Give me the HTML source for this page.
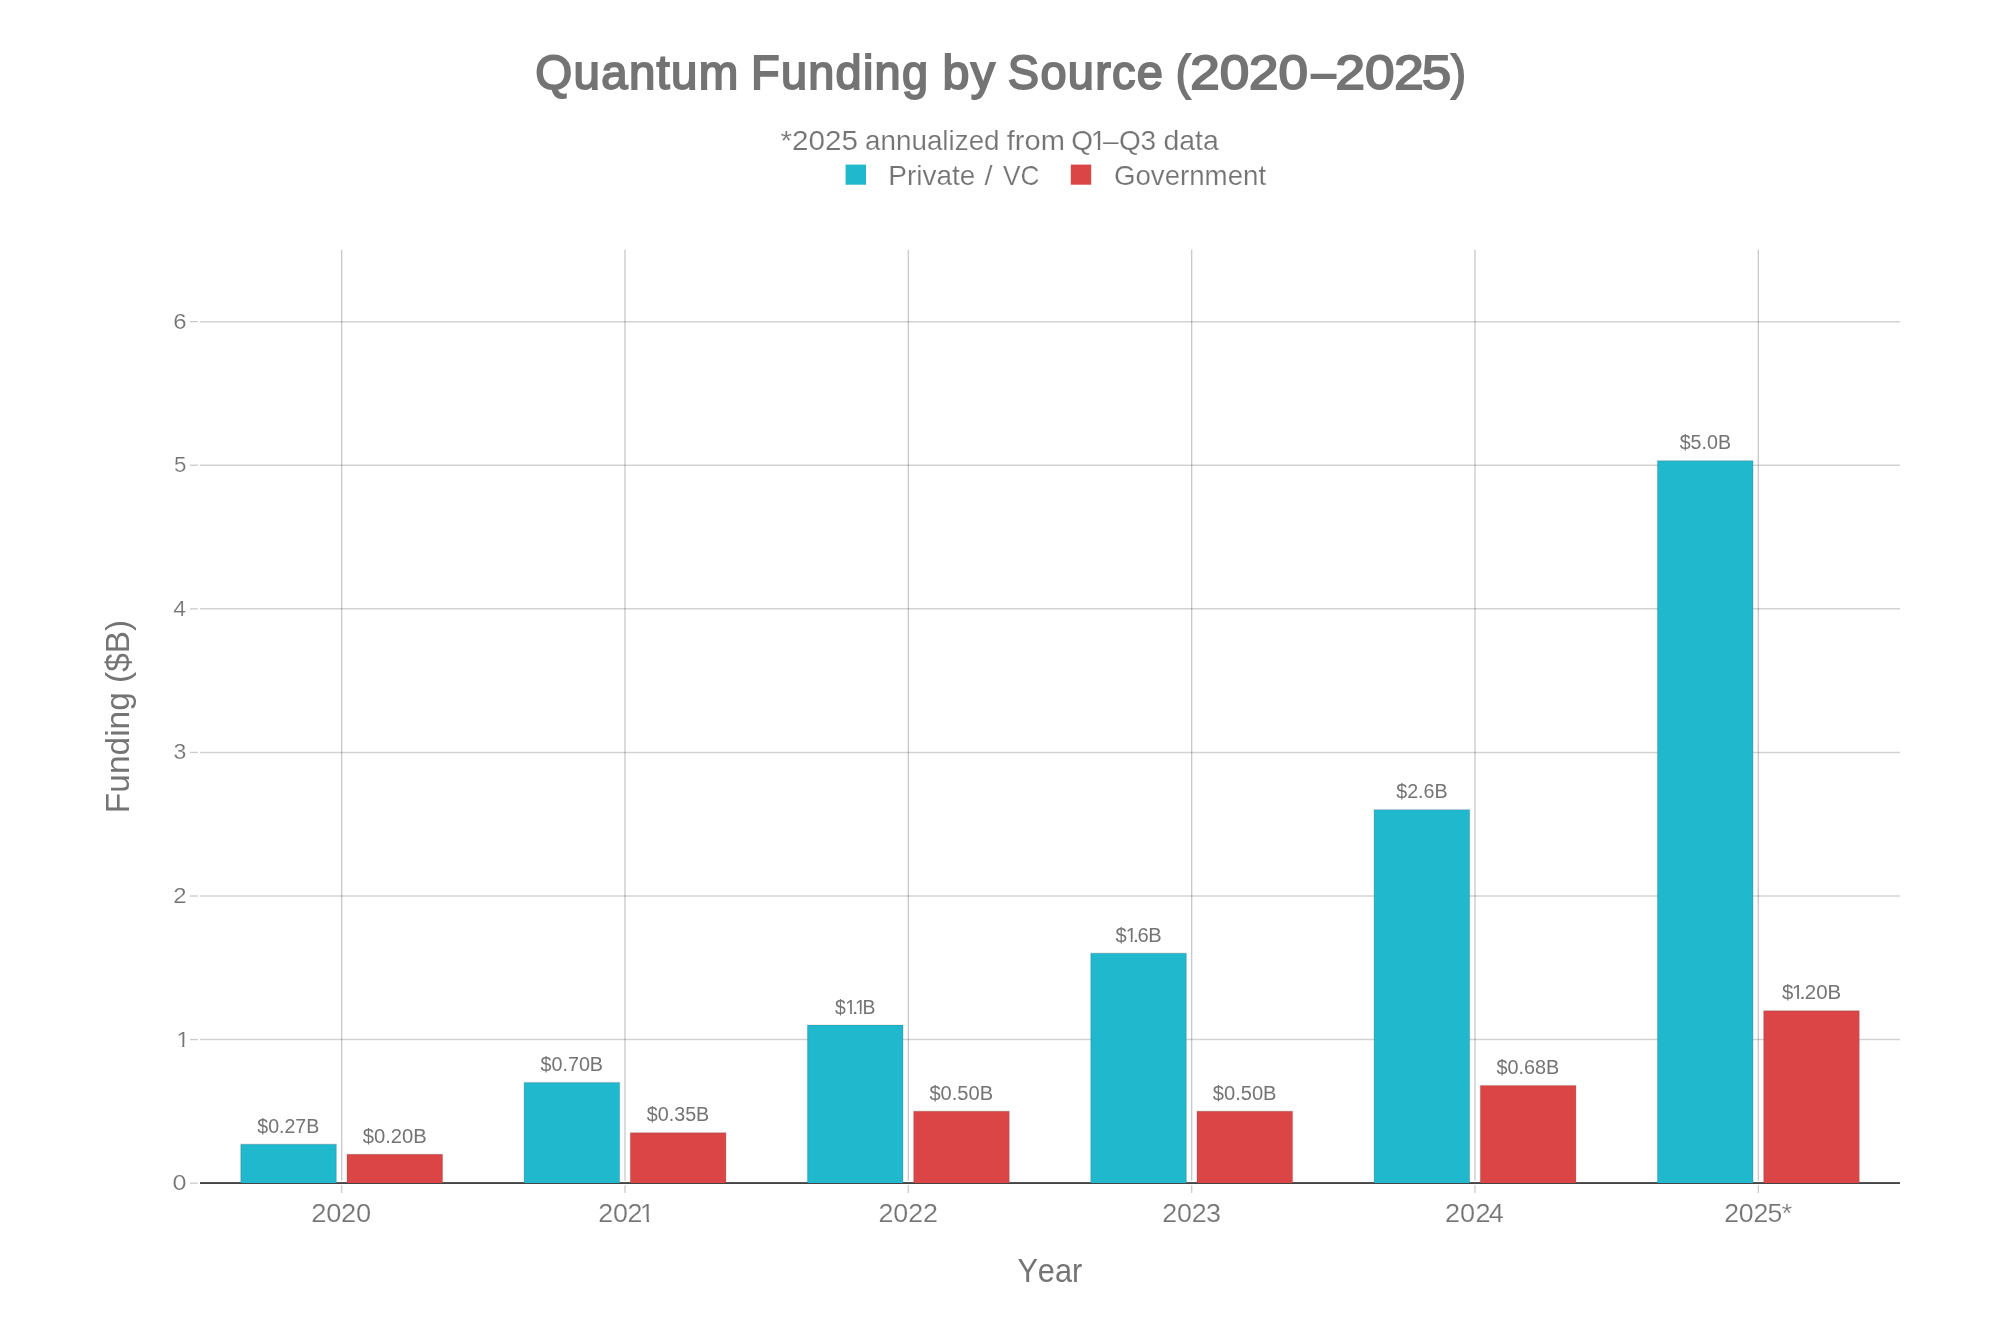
<!DOCTYPE html>
<html lang="en"><head><meta charset="utf-8"><title>Quantum Funding by Source (2020–2025)</title>
<style>
html,body{margin:0;padding:0;background:#fff;}
body{width:2000px;height:1333px;overflow:hidden;}
svg{display:block;will-change:transform;}
text{font-family:"Liberation Sans",sans-serif;fill:#747474;font-kerning:none;white-space:pre;}
.title{font-size:48.2px;stroke:#747474;stroke-width:1.9px;stroke-linejoin:miter;paint-order:stroke fill;}
.sub,.leg,.xt,.yt{stroke:#fff;stroke-width:0.18px;}
.sub{font-size:28px;}
.leg{font-size:27.8px;}
.xt{font-size:25.2px;}
.yt{font-size:22.6px;}
.at{font-size:33.6px;}
.bl{font-size:19.7px;}
</style></head><body>
<svg width="2000" height="1333" viewBox="0 0 2000 1333">
<rect x="0" y="0" width="2000" height="1333" fill="#ffffff"/>
<defs><clipPath id="cb0"><path clip-rule="evenodd" d="M805.05 974.18H904.25V1033.28H805.05ZM845.85 1011.01H850.14V1015.58H845.85ZM851.85 1011.01H853.95V1015.58H851.85ZM856.55 1011.01H859.79V1015.58H856.55ZM861.5 1011.01H864.15V1015.58H861.5Z"/></clipPath><clipPath id="cb1"><path clip-rule="evenodd" d="M1085.85 902.39H1190.5V961.49H1085.85ZM1126.35 939.22H1130.72V943.79H1126.35ZM1132.5 939.22H1134.75V943.79H1132.5Z"/></clipPath><clipPath id="cb2"><path clip-rule="evenodd" d="M1752.2 959.82H1869.8V1018.92H1752.2ZM1793.15 996.65H1797.19V1001.22H1793.15ZM1799 996.65H1801.25V1001.22H1799Z"/></clipPath><clipPath id="cy1"><path clip-rule="evenodd" d="M149 1001.44H214.3V1069.24H149ZM176.86 1043.85H182.24V1048.64H176.86ZM184.3 1043.85H189.43V1048.64H184.3Z"/></clipPath><clipPath id="cx1"><path clip-rule="evenodd" d="M569.8 1171.25H679V1246.85H569.8ZM641.15 1218.67H646.64V1223.65H641.15ZM649 1218.67H654.9V1223.65H649Z"/></clipPath><clipPath id="cs1"><path clip-rule="evenodd" d="M750.95 93.8H1248.8V177.8H750.95ZM1091.85 146.61H1097.73V151.8H1091.85ZM1100.2 146.61H1106.37V151.8H1100.2Z"/></clipPath></defs>
<g stroke="#000" stroke-opacity="0.21" stroke-width="1.333" fill="none">
<line x1="341.67" y1="249.85" x2="341.67" y2="1180.7"/>
<line x1="625" y1="249.85" x2="625" y2="1180.7"/>
<line x1="908.33" y1="249.85" x2="908.33" y2="1180.7"/>
<line x1="1191.67" y1="249.85" x2="1191.67" y2="1180.7"/>
<line x1="1475" y1="249.85" x2="1475" y2="1180.7"/>
<line x1="1758.33" y1="249.85" x2="1758.33" y2="1180.7"/>
</g>
<g stroke="#000" stroke-opacity="0.176" stroke-width="1.5" fill="none">
<line x1="200" y1="1039.61" x2="1900" y2="1039.61"/>
<line x1="200" y1="896.02" x2="1900" y2="896.02"/>
<line x1="200" y1="752.43" x2="1900" y2="752.43"/>
<line x1="200" y1="608.84" x2="1900" y2="608.84"/>
<line x1="200" y1="465.25" x2="1900" y2="465.25"/>
<line x1="200" y1="321.66" x2="1900" y2="321.66"/>
</g>
<rect x="200" y="1182.1" width="1700" height="1.9" fill="#444444"/>
<g stroke="#555" stroke-opacity="0.18" stroke-width="1.333">
<path d="M240.73 1183V1144.26H336.35V1183" fill="#1FB8CD"/>
<path d="M346.98 1183V1154.31H442.6V1183" fill="#DB4545"/>
<path d="M524.06 1183V1082.52H619.69V1183" fill="#1FB8CD"/>
<path d="M630.31 1183V1132.77H725.94V1183" fill="#DB4545"/>
<path d="M807.4 1183V1025.08H903.02V1183" fill="#1FB8CD"/>
<path d="M913.65 1183V1111.24H1009.27V1183" fill="#DB4545"/>
<path d="M1090.73 1183V953.29H1186.35V1183" fill="#1FB8CD"/>
<path d="M1196.98 1183V1111.24H1292.6V1183" fill="#DB4545"/>
<path d="M1374.06 1183V809.7H1469.69V1183" fill="#1FB8CD"/>
<path d="M1480.31 1183V1085.39H1575.94V1183" fill="#DB4545"/>
<path d="M1657.4 1183V460.78H1753.02V1183" fill="#1FB8CD"/>
<path d="M1763.65 1183V1010.72H1859.27V1183" fill="#DB4545"/>
</g>
<g stroke="#cccccc" stroke-width="1.333">
<line x1="190" y1="1183.18" x2="198" y2="1183.18"/>
<line x1="190" y1="1039.59" x2="198" y2="1039.59"/>
<line x1="190" y1="896" x2="198" y2="896"/>
<line x1="190" y1="752.41" x2="198" y2="752.41"/>
<line x1="190" y1="608.82" x2="198" y2="608.82"/>
<line x1="190" y1="465.23" x2="198" y2="465.23"/>
<line x1="190" y1="321.64" x2="198" y2="321.64"/>
<line x1="341.67" y1="1185.33" x2="341.67" y2="1193"/>
<line x1="625" y1="1185.33" x2="625" y2="1193"/>
<line x1="908.33" y1="1185.33" x2="908.33" y2="1193"/>
<line x1="1191.67" y1="1185.33" x2="1191.67" y2="1193"/>
<line x1="1475" y1="1185.33" x2="1475" y2="1193"/>
<line x1="1758.33" y1="1185.33" x2="1758.33" y2="1193"/>
</g>
<text class="bl" transform="translate(0,1132.76)"><tspan x="257.29" textLength="61.99" lengthAdjust="spacingAndGlyphs">$0.27B</tspan></text>
<text class="bl" transform="translate(0,1142.81)"><tspan x="362.78" textLength="64.03" lengthAdjust="spacingAndGlyphs">$0.20B</tspan></text>
<text class="bl" transform="translate(0,1071.02)"><tspan x="540.54" textLength="62.5" lengthAdjust="spacingAndGlyphs">$0.70B</tspan></text>
<text class="bl" transform="translate(0,1121.27)"><tspan x="646.79" textLength="62.5" lengthAdjust="spacingAndGlyphs">$0.35B</tspan></text>
<text class="bl" transform="translate(0,1099.74)"><tspan x="929.48" textLength="63.57" lengthAdjust="spacingAndGlyphs">$0.50B</tspan></text>
<text class="bl" transform="translate(0,1099.74)"><tspan x="1212.78" textLength="63.78" lengthAdjust="spacingAndGlyphs">$0.50B</tspan></text>
<text class="bl" transform="translate(0,798.2)"><tspan x="1396.19" textLength="51.45" lengthAdjust="spacingAndGlyphs">$2.6B</tspan></text>
<text class="bl" transform="translate(0,1073.89)"><tspan x="1496.49" textLength="62.86" lengthAdjust="spacingAndGlyphs">$0.68B</tspan></text>
<text class="bl" transform="translate(0,449.28)"><tspan x="1679.69" textLength="51.35" lengthAdjust="spacingAndGlyphs">$5.0B</tspan></text>
<g clip-path="url(#cb0)"><text class="bl" transform="translate(0,1013.58) scale(0.9851,1)" x="847.68 858.06 865.47 867.85 875.58">$1.1B</text></g>
<g clip-path="url(#cb1)"><text class="bl" transform="translate(0,941.79) scale(1.0216,1)" x="1091.9 1101.87 1109.2 1113.37 1124.04">$1.6B</text></g>
<g clip-path="url(#cb2)"><text class="bl" transform="translate(0,999.22) scale(1.0381,1)" x="1716.62 1726.33 1733.66 1738.53 1749.51 1760.46">$1.20B</text></g>
<text class="yt" transform="translate(0,1190.23)"><tspan x="172.42" textLength="13.96" lengthAdjust="spacingAndGlyphs">0</tspan></text>
<g clip-path="url(#cy1)"><text class="yt" transform="translate(0,1046.64) scale(1.03,1)" x="171.25">1</text></g>
<text class="yt" transform="translate(0,903.05)"><tspan x="173.3" textLength="13.31" lengthAdjust="spacingAndGlyphs">2</tspan></text>
<text class="yt" transform="translate(0,759.46)"><tspan x="173.62" textLength="12.79" lengthAdjust="spacingAndGlyphs">3</tspan></text>
<text class="yt" transform="translate(0,615.87)"><tspan x="173.38" textLength="12.69" lengthAdjust="spacingAndGlyphs">4</tspan></text>
<text class="yt" transform="translate(0,472.28)"><tspan x="173.9" textLength="12.43" lengthAdjust="spacingAndGlyphs">5</tspan></text>
<text class="yt" transform="translate(0,328.69)"><tspan x="173.19" textLength="13.26" lengthAdjust="spacingAndGlyphs">6</tspan></text>
<text class="xt" transform="translate(0,1221.65) scale(1.0839,1)" x="287.21 300.91 314.71 328.5">2020</text>
<g clip-path="url(#cx1)"><text class="xt" transform="translate(0,1221.65) scale(1.0626,1)" x="563.08 577 590.56 602.17">2021</text></g>
<text class="xt" transform="translate(0,1221.65) scale(1.0648,1)" x="825.06 838.96 852.96 866.81">2022</text>
<text class="xt" transform="translate(0,1221.65) scale(1.0649,1)" x="1091.36 1105.26 1119.25 1132.47">2023</text>
<text class="xt" transform="translate(0,1221.65) scale(1.0754,1)" x="1343.8 1357.57 1371.94 1384.34">2024</text>
<text class="xt" transform="translate(0,1221.65) scale(1.0579,1)" x="1629.87 1643.67 1657.48 1670.83 1684.25">2025*</text>
<text class="at" transform="translate(0,1282.1)"><tspan x="1017.38" textLength="64.83" lengthAdjust="spacingAndGlyphs">Year</tspan></text>
<text class="at" transform="translate(129.1,0) rotate(-90)"><tspan x="-813.14" textLength="120.9" lengthAdjust="spacingAndGlyphs">Funding</tspan> <tspan x="-682.97" textLength="63.04" lengthAdjust="spacingAndGlyphs">($B)</tspan></text>
<text class="title" transform="translate(0,88.65)"><tspan x="535.3" textLength="204.36" lengthAdjust="spacingAndGlyphs" letter-spacing="1.3">Quantum</tspan> <tspan x="751.01" textLength="178.23" lengthAdjust="spacingAndGlyphs" letter-spacing="1.3">Funding</tspan> <tspan x="942.53" textLength="53.72" lengthAdjust="spacingAndGlyphs" letter-spacing="1.3">by</tspan> <tspan x="1007.87" textLength="156.33" lengthAdjust="spacingAndGlyphs" letter-spacing="1.3">Source</tspan> <tspan x="1175.81" textLength="14.7" lengthAdjust="spacingAndGlyphs">(</tspan><tspan x="1190.16" textLength="29.49" lengthAdjust="spacingAndGlyphs">2</tspan><tspan x="1219.66" textLength="29.49" lengthAdjust="spacingAndGlyphs">0</tspan><tspan x="1249.09" textLength="29.42" lengthAdjust="spacingAndGlyphs">2</tspan><tspan x="1278.46" textLength="29.49" lengthAdjust="spacingAndGlyphs">0</tspan><tspan x="1311.45" textLength="24.17" lengthAdjust="spacingAndGlyphs">–</tspan><tspan x="1335.41" textLength="29.49" lengthAdjust="spacingAndGlyphs">2</tspan><tspan x="1364.91" textLength="29.49" lengthAdjust="spacingAndGlyphs">0</tspan><tspan x="1394.29" textLength="29.42" lengthAdjust="spacingAndGlyphs">2</tspan><tspan x="1422.1" textLength="29.15" lengthAdjust="spacingAndGlyphs">5</tspan><tspan x="1451.14" textLength="14.63" lengthAdjust="spacingAndGlyphs">)</tspan></text>
<g clip-path="url(#cs1)"><text class="sub" transform="translate(0,149.8)"><tspan x="780.47" textLength="77.57" lengthAdjust="spacingAndGlyphs">*2025</tspan> <tspan x="865.02" textLength="134.57" lengthAdjust="spacingAndGlyphs">annualized</tspan> <tspan x="1006.79" textLength="58.13" lengthAdjust="spacingAndGlyphs">from</tspan> <tspan x="1071.37 1090.69 1103.12 1119.09 1140.45">Q1–Q3</tspan> <tspan x="1163.51" textLength="55.29" lengthAdjust="spacingAndGlyphs">data</tspan></text></g>
<rect x="845.6" y="164.6" width="20.4" height="20.1" fill="#1FB8CD"/>
<rect x="1070.8" y="164.6" width="20.4" height="20.1" fill="#DB4545"/>
<text class="leg" transform="translate(0,184.75)"><tspan x="888.3" textLength="87.14" lengthAdjust="spacingAndGlyphs">Private</tspan> <tspan x="984.48" textLength="8.03" lengthAdjust="spacingAndGlyphs">/</tspan> <tspan x="1003.08" textLength="36.41" lengthAdjust="spacingAndGlyphs">VC</tspan></text>
<text class="leg" transform="translate(0,184.75)"><tspan x="1113.91" textLength="152.19" lengthAdjust="spacingAndGlyphs">Government</tspan></text>
</svg>
</body></html>
